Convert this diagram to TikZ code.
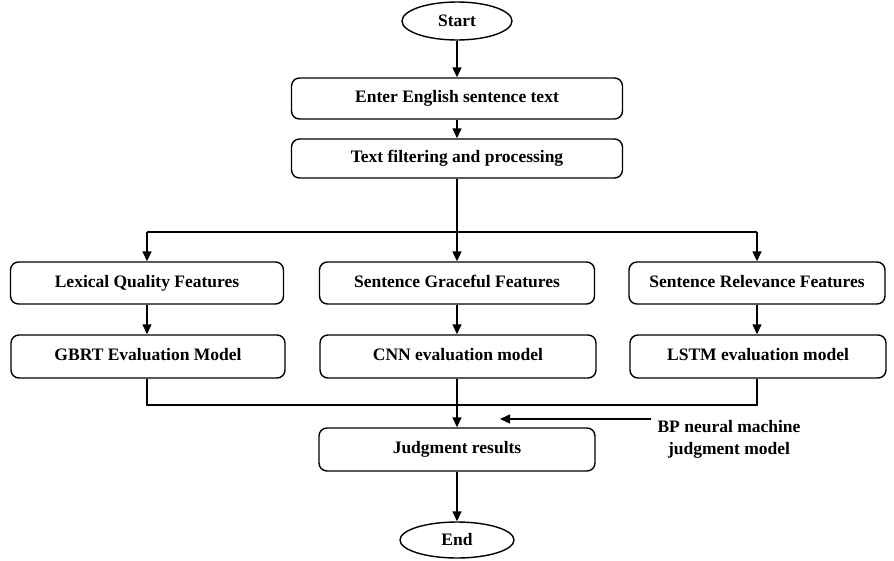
\documentclass[tikz,border=0pt]{standalone}
\usepackage{fontspec}
\setmainfont{Liberation Serif}
\usetikzlibrary{shapes.geometric,arrows.meta}
\begin{document}
\begin{tikzpicture}[x=1pt,y=-1pt,
  every node/.style={font=\fontsize{17.5}{20}\selectfont\bfseries},
  stepbox/.style={draw,line width=1.4pt,rounded corners=8pt,inner sep=0pt,text height=12pt,text depth=3.5pt},
  term/.style={draw,ellipse,line width=1.4pt,inner sep=0pt},
  link/.style={line width=1.4pt},
  flow/.style={link,-{Triangle[length=10pt,width=9pt]}}]
\useasboundingbox (0,0) rectangle (894,560);
% start / end terminals
\node[term,minimum width=110pt,minimum height=38pt] (start) at (457,21) {Start};
\node[term,minimum width=114pt,minimum height=36pt] (end) at (457,540) {End};
% main column
\node[stepbox,minimum width=331pt,minimum height=41pt] (enter) at (457,98.5) {Enter English sentence text};
\node[stepbox,minimum width=331pt,minimum height=39pt] (filter) at (457,158.5) {Text filtering and processing};
% feature row
\node[stepbox,minimum width=273pt,minimum height=42pt] (lex) at (147,283) {Lexical Quality Features};
\node[stepbox,minimum width=275pt,minimum height=42pt] (grace) at (457,283) {Sentence Graceful Features};
\node[stepbox,minimum width=256pt,minimum height=42pt] (rel) at (757,283) {Sentence Relevance Features};
% model row
\node[stepbox,minimum width=274pt,minimum height=43pt] (gbrt) at (148,356.5) {GBRT Evaluation Model};
\node[stepbox,minimum width=276pt,minimum height=43pt] (cnn) at (458,356.5) {CNN evaluation model};
\node[stepbox,minimum width=256pt,minimum height=43pt] (lstm) at (758,356.5) {LSTM evaluation model};
% judgment
\node[stepbox,minimum width=276pt,minimum height=43pt] (judge) at (457,449.5) {Judgment results};
\node[align=center,font=\fontsize{17.5}{22}\selectfont\bfseries] (bp) at (729,439) {BP neural machine\\judgment model};
\coordinate (split) at (457,232);
\coordinate (merge) at (457,405);
\coordinate (bpend) at (651,419);
\coordinate (bptip) at (500,419);
% connectors
\draw[flow] (start) -- (enter);
\draw[flow] (enter) -- (filter);
\draw[link] (filter) -- (split);
\draw[link] (lex.north |- split) -- (rel.north |- split);
\draw[flow] (lex.north |- split) -- (lex.north);
\draw[flow] (split) -- (grace.north);
\draw[flow] (rel.north |- split) -- (rel.north);
\draw[flow] (lex) -- (gbrt.north -| lex);
\draw[flow] (grace) -- (cnn.north -| grace);
\draw[flow] (rel) -- (lstm.north -| rel);
\draw[link] (gbrt.south -| lex) |- (merge) -| (lstm.south -| rel);
\draw[link] (cnn.south -| grace) -- (merge);
\draw[flow] (merge) -- (judge);
\draw[flow] (bpend) -- (bptip);
\draw[flow] (judge) -- (end);
\end{tikzpicture}
\end{document}
